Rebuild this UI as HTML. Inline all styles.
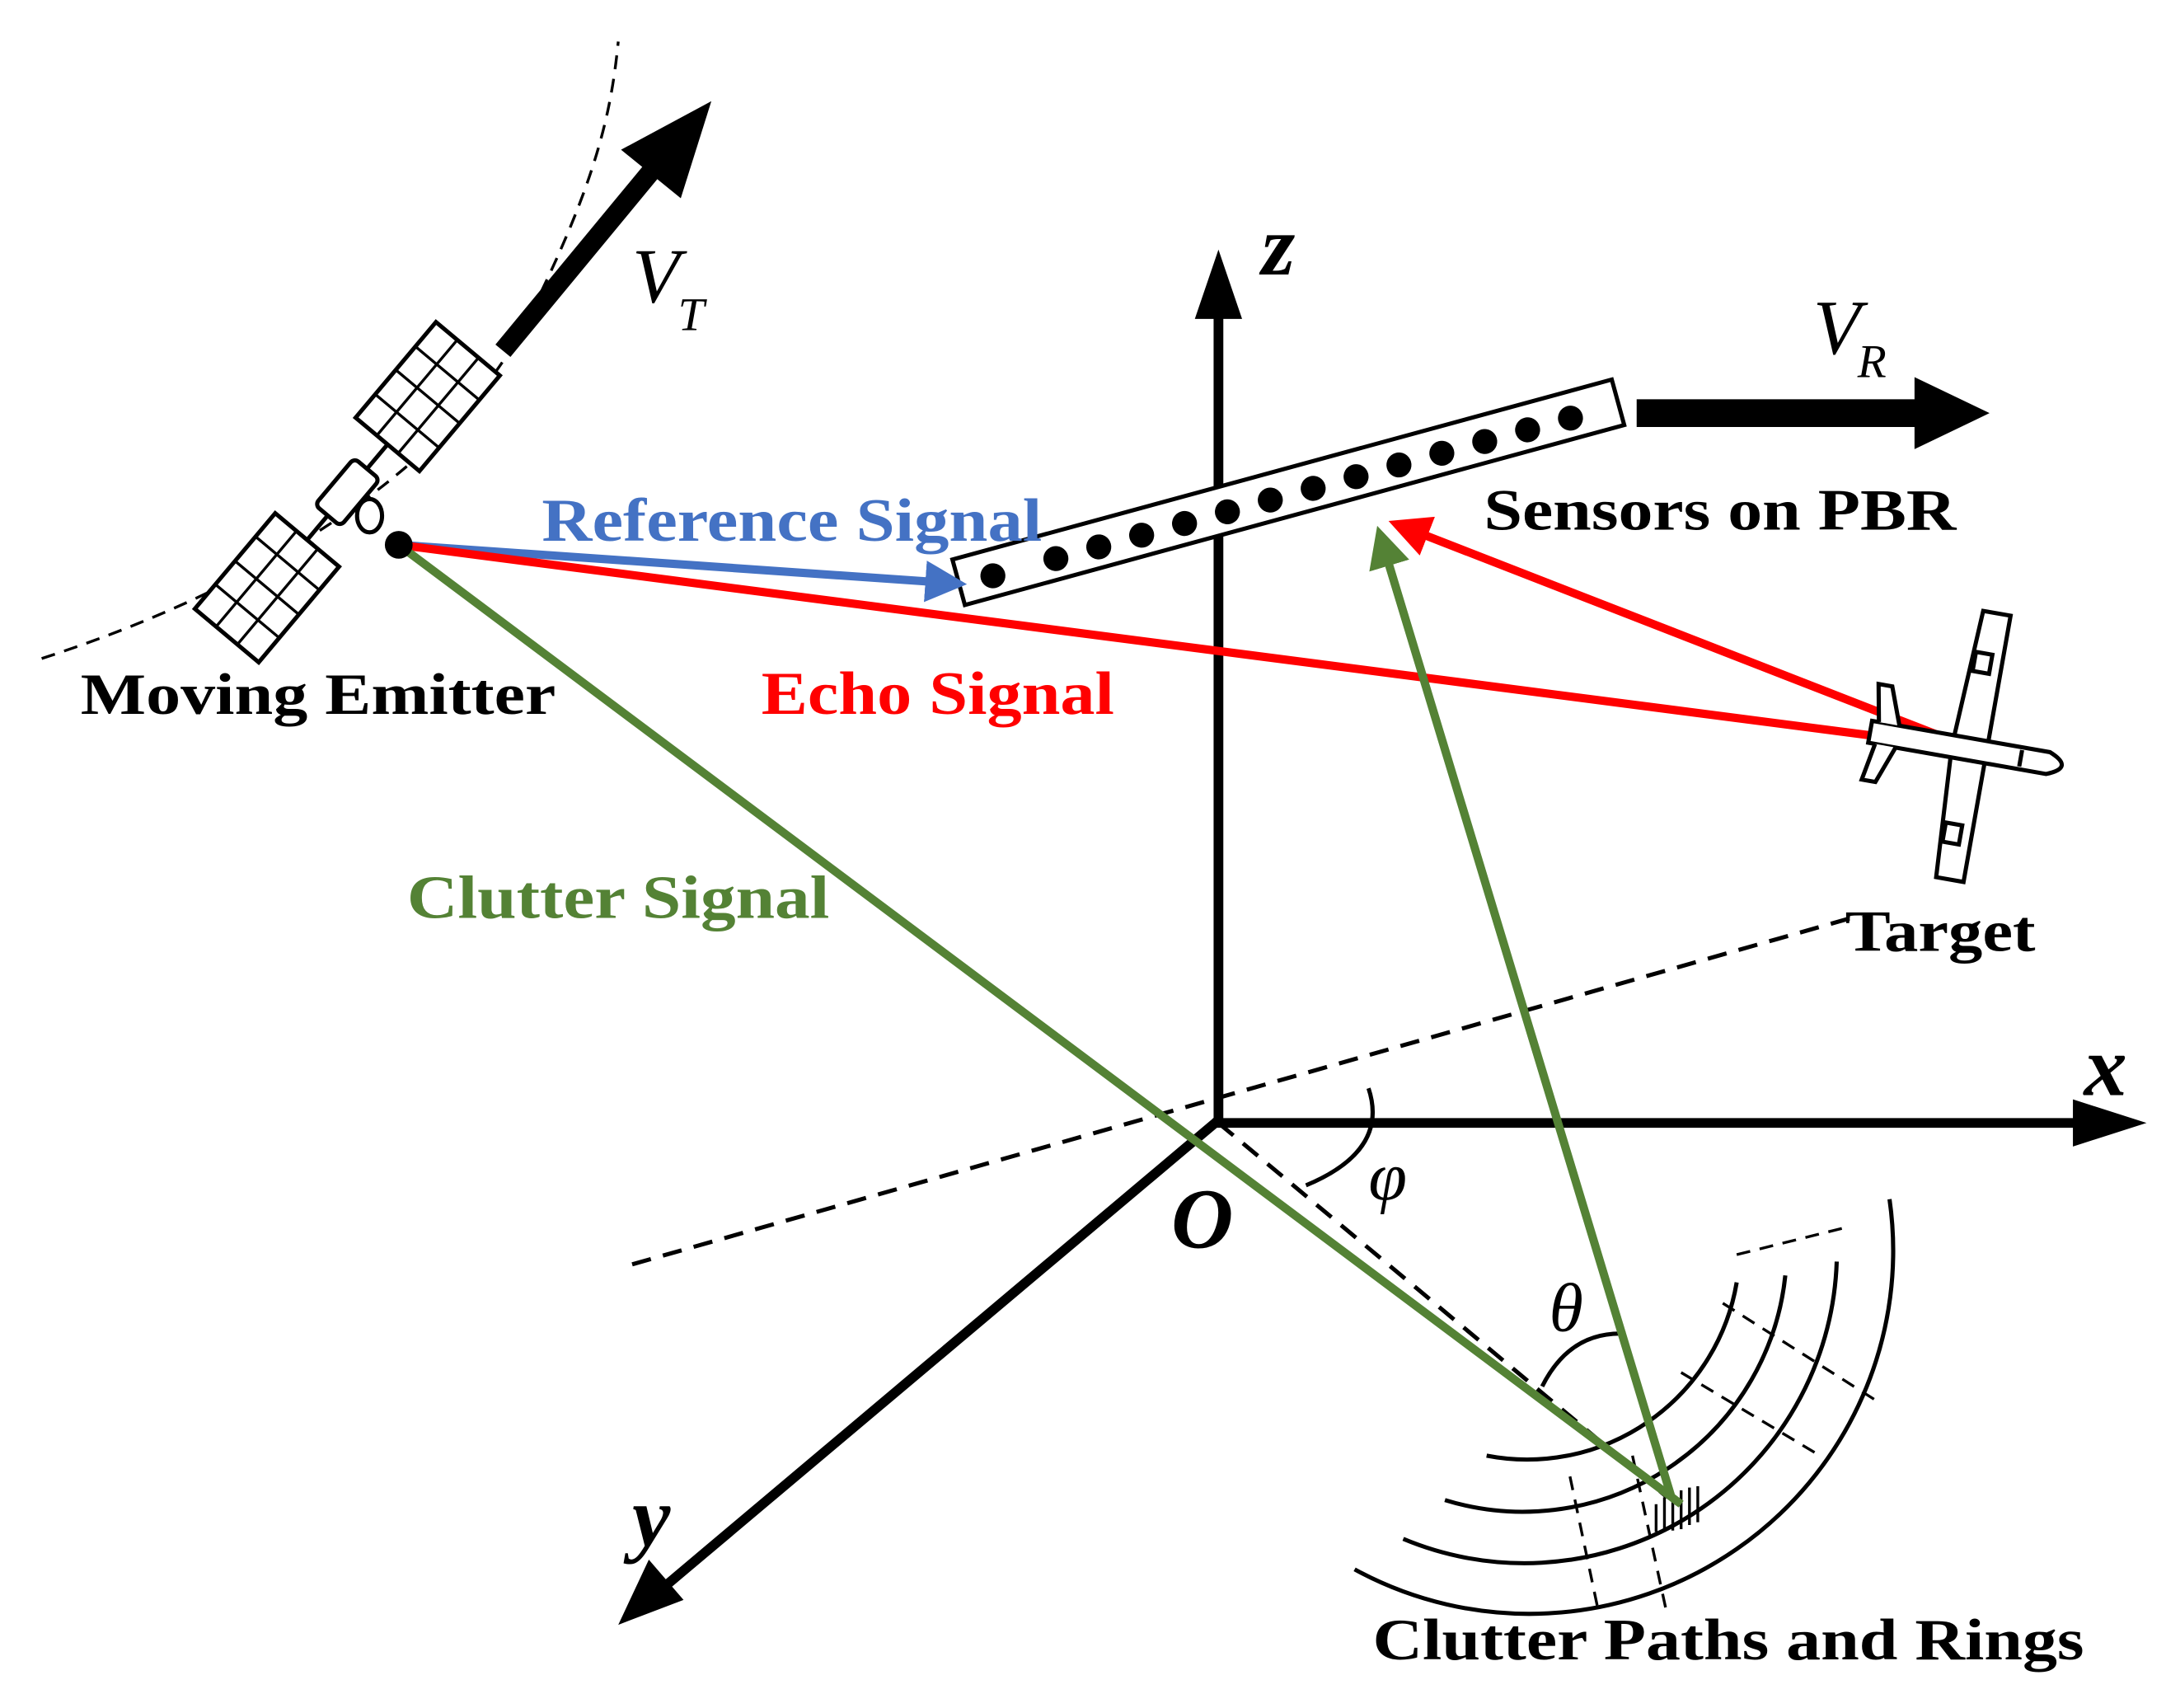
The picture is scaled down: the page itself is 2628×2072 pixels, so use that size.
<!DOCTYPE html>
<html><head><meta charset="utf-8"><style>
html,body{margin:0;padding:0;background:#fff;}
svg{display:block;}
text{font-family:"Liberation Serif",serif;font-weight:bold;}
text.n{font-weight:normal;font-style:italic;}
</style></head><body>
<svg width="2628" height="2072" viewBox="0 0 1559 1232" preserveAspectRatio="none" xmlns="http://www.w3.org/2000/svg">
<defs>
<marker id="ar" markerWidth="5" markerHeight="5" refX="4" refY="2.5" orient="auto" markerUnits="strokeWidth"><path d="M0,0 L5,2.5 L0,5 z" fill="#ff0000"/></marker>
<marker id="ag" markerWidth="5" markerHeight="5" refX="4" refY="2.5" orient="auto" markerUnits="strokeWidth"><path d="M0,0 L5,2.5 L0,5 z" fill="#548235"/></marker>
<marker id="abl" markerWidth="5" markerHeight="5" refX="4" refY="2.5" orient="auto" markerUnits="strokeWidth"><path d="M0,0 L5,2.5 L0,5 z" fill="#4472c4"/></marker>
</defs>
<path d="M30,475 C200,420 330,330 380,230 S440,80 445,30" fill="none" stroke="#000" stroke-width="2" stroke-dasharray="10,7"/>
<line x1="362" y1="253" x2="470" y2="122" stroke="#000" stroke-width="14"/>
<polygon points="512,73 447,108 490,143" fill="#000"/>
<text class="n" x="455" y="218" font-size="56">V</text>
<text class="n" x="488" y="238" font-size="34">T</text>
<g transform="translate(250,355) rotate(-50)">
 <rect x="-22" y="-12" width="44" height="24" rx="4" fill="#fff" stroke="#000" stroke-width="3"/>
 <line x1="22" y1="0" x2="45" y2="0" stroke="#000" stroke-width="3"/>
 <line x1="-22" y1="0" x2="-45" y2="0" stroke="#000" stroke-width="3"/>
 <g stroke="#000" stroke-width="3" fill="#fff">
  <rect x="45" y="-30" width="90" height="60"/>
  <rect x="-135" y="-30" width="90" height="60"/>
 </g>
 <g stroke="#000" stroke-width="2">
  <line x1="45" y1="-10" x2="135" y2="-10"/><line x1="45" y1="10" x2="135" y2="10"/>
  <line x1="67" y1="-30" x2="67" y2="30"/><line x1="90" y1="-30" x2="90" y2="30"/><line x1="112" y1="-30" x2="112" y2="30"/>
  <line x1="-135" y1="-10" x2="-45" y2="-10"/><line x1="-135" y1="10" x2="-45" y2="10"/>
  <line x1="-67" y1="-30" x2="-67" y2="30"/><line x1="-90" y1="-30" x2="-90" y2="30"/><line x1="-112" y1="-30" x2="-112" y2="30"/>
 </g>
</g>
<ellipse cx="266" cy="372" rx="9" ry="12" fill="#fff" stroke="#000" stroke-width="3"/>
<line x1="877" y1="808" x2="877" y2="225" stroke="#000" stroke-width="7"/>
<polygon points="877,180 860,230 894,230" fill="#000"/>
<line x1="873" y1="810" x2="1500" y2="810" stroke="#000" stroke-width="7"/>
<polygon points="1545,810 1492,793 1492,827" fill="#000"/>
<line x1="877" y1="808" x2="480" y2="1143" stroke="#000" stroke-width="7"/>
<polygon points="445,1172 467,1125 492,1154" fill="#000"/>
<line x1="455" y1="912" x2="1340" y2="660" stroke="#000" stroke-width="3" stroke-dasharray="14,9"/>
<line x1="877" y1="810" x2="1200" y2="1080" stroke="#000" stroke-width="3" stroke-dasharray="14,9"/>
<g fill="none" stroke="#000" stroke-width="3">
 <path d="M1070,1050 A153,153 0 0 0 1250,925"/>
 <path d="M1040,1082 A190,190 0 0 0 1285,920"/>
 <path d="M1010,1110 A225,225 0 0 0 1322,910"/>
 <path d="M975,1132 A262,262 0 0 0 1360,865"/>
</g>
<g stroke="#000" stroke-width="2" stroke-dasharray="10,7">
 <line x1="1130" y1="1065" x2="1150" y2="1160"/>
 <line x1="1175" y1="1050" x2="1200" y2="1165"/>
 <line x1="1240" y1="940" x2="1350" y2="1010"/>
 <line x1="1210" y1="990" x2="1310" y2="1050"/>
 <line x1="1250" y1="905" x2="1330" y2="885"/>
</g>
<g stroke="#000" stroke-width="2">
 <line x1="1192" y1="1085" x2="1192" y2="1105"/><line x1="1198" y1="1080" x2="1198" y2="1105"/>
 <line x1="1204" y1="1078" x2="1204" y2="1104"/><line x1="1210" y1="1075" x2="1210" y2="1103"/>
 <line x1="1216" y1="1073" x2="1216" y2="1100"/><line x1="1222" y1="1072" x2="1222" y2="1098"/>
</g>
<path d="M985,785 Q1000,830 940,855" fill="none" stroke="#000" stroke-width="3"/>
<path d="M1110,1000 Q1130,960 1170,962" fill="none" stroke="#000" stroke-width="3"/>
<text class="n" x="985" y="865" font-size="50">φ</text>
<text class="n" x="1115" y="960" font-size="50">θ</text>
<g transform="translate(690,420) rotate(-15.3)">
 <rect x="0" y="-17" width="492" height="34" fill="#fff" stroke="#000" stroke-width="3"/>
 <g fill="#000">
  <circle cx="25" cy="2" r="9"/><circle cx="72" cy="2" r="9"/><circle cx="104" cy="2" r="9"/><circle cx="136" cy="2" r="9"/><circle cx="168" cy="2" r="9"/><circle cx="200" cy="2" r="9"/><circle cx="232" cy="2" r="9"/><circle cx="264" cy="2" r="9"/><circle cx="296" cy="2" r="9"/><circle cx="328" cy="2" r="9"/><circle cx="360" cy="2" r="9"/><circle cx="392" cy="2" r="9"/><circle cx="424" cy="2" r="9"/><circle cx="456" cy="2" r="9"/>
 </g>
</g>
<rect x="1178" y="288" width="205" height="20" fill="#000"/>
<polygon points="1432,298 1378,272 1378,324" fill="#000"/>
<text class="n" x="1305" y="255" font-size="56">V</text>
<text class="n" x="1337" y="272" font-size="34">R</text>
<line x1="287" y1="393" x2="690" y2="421" stroke="#4472c4" stroke-width="6" marker-end="url(#abl)"/>
<line x1="287" y1="393" x2="1420" y2="540" stroke="#ff0000" stroke-width="6"/>
<line x1="1420" y1="540" x2="1005" y2="378" stroke="#ff0000" stroke-width="6" marker-end="url(#ar)"/>
<line x1="287" y1="393" x2="1210" y2="1085" stroke="#548235" stroke-width="6"/>
<line x1="1203" y1="1080" x2="993" y2="385" stroke="#548235" stroke-width="6" marker-end="url(#ag)"/>
<circle cx="287" cy="393" r="10" fill="#000"/>
<g transform="translate(1415,540) rotate(10)" fill="#fff" stroke="#000" stroke-width="3">
 <path d="M-10,-5 L-5,-100 L15,-100 L15,-5 Z"/>
 <path d="M-10,5 L-5,95 L15,95 L15,5 Z"/>
 <rect x="-5" y="-70" width="12" height="14"/><rect x="-5" y="55" width="12" height="14"/>
 <path d="M-70,-8 L60,-8 Q80,0 60,8 L-70,8 Z"/>
 <path d="M-65,-8 L-70,-35 L-60,-35 L-50,-8"/>
 <path d="M-65,8 L-70,35 L-60,35 L-50,8"/>
 <line x1="40" y1="-6" x2="40" y2="6"/>
</g>
<text x="58" y="515" font-size="42" textLength="342" lengthAdjust="spacingAndGlyphs">Moving Emitter</text>
<text x="390" y="390" font-size="44" fill="#4472c4" textLength="360" lengthAdjust="spacingAndGlyphs">Reference Signal</text>
<text x="548" y="515" font-size="44" fill="#ff0000" textLength="254" lengthAdjust="spacingAndGlyphs">Echo Signal</text>
<text x="293" y="662" font-size="44" fill="#548235" textLength="304" lengthAdjust="spacingAndGlyphs">Clutter Signal</text>
<text x="1068" y="382" font-size="42" textLength="340" lengthAdjust="spacingAndGlyphs">Sensors on PBR</text>
<text x="1328" y="686" font-size="42" textLength="137" lengthAdjust="spacingAndGlyphs">Target</text>
<text x="988" y="1197" font-size="42" textLength="512" lengthAdjust="spacingAndGlyphs">Clutter Paths and Rings</text>
<text x="908" y="198" font-size="62" font-style="italic">z</text>
<text x="1500" y="790" font-size="62" font-style="italic">x</text>
<text x="455" y="1115" font-size="62" font-style="italic">y</text>
<text x="843" y="900" font-size="62" font-style="italic">O</text>
</svg>
</body></html>
